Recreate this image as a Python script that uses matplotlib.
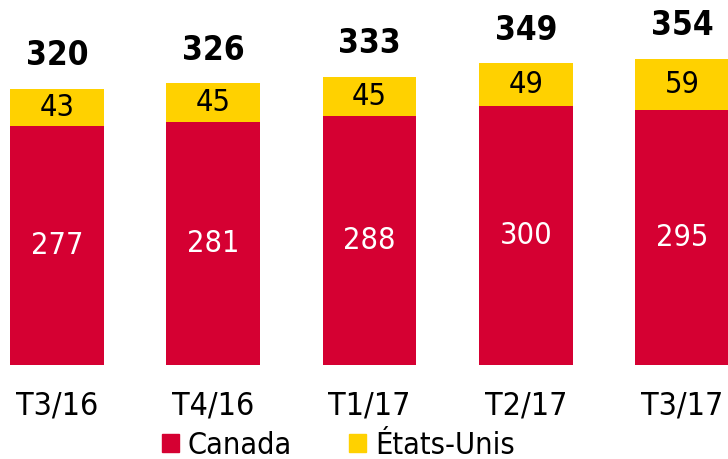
import matplotlib
matplotlib.use("Agg")
import matplotlib.pyplot as plt
from matplotlib.patches import Patch
import numpy as np

categories = ["T3/16", "T4/16", "T1/17", "T2/17", "T3/17"]
canada = [277, 281, 288, 300, 295]
etats_unis = [43, 45, 45, 49, 59]
totals = [320, 326, 333, 349, 354]

RED = "#D50032"
YEL = "#FFD100"
FONT = dict(family="DejaVu Sans", stretch="condensed")

fig = plt.figure(figsize=(7.28, 4.59), dpi=100)
ax = fig.add_axes([0, 1 - 365/459, 1, 365/459])
x = np.arange(len(categories))
w = 0.6
ax.bar(x, canada, w, color=RED, label="Canada")
ax.bar(x, etats_unis, w, bottom=canada, color=YEL, label="États-Unis")

for xi, c, u, t in zip(x, canada, etats_unis, totals):
    ax.text(xi, c / 2, str(c), ha="center", va="center", color="white", fontsize=22, **FONT)
    ax.text(xi, c + u / 2, str(u), ha="center", va="center", color="black", fontsize=22, **FONT)
    ax.annotate(str(t), (xi, t), xytext=(0, 24), textcoords="offset points",
                ha="center", va="center", fontsize=24, fontweight="bold", **FONT)

ax.set_xlim(-0.365, 4.294)
ax.set_ylim(0, 422.5)
ax.set_xticks(x)
ax.set_xticklabels(categories, fontsize=23, **FONT)
ax.tick_params(axis="x", length=0, pad=18)
ax.set_yticks([])
for s in ax.spines.values():
    s.set_visible(False)

handles = [Patch(color=RED, label="Canada"), Patch(color=YEL, label="États-Unis")]
leg = fig.legend(handles=handles, loc="center left", bbox_to_anchor=(162/728, 1 - 445/459),
                 ncol=2, frameon=False, handlelength=0.55, handleheight=0.52,
                 handletextpad=0.3, columnspacing=1.86, borderpad=0, borderaxespad=0,
                 prop=dict(size=22, **FONT))

fig.savefig("out.png", dpi=100)
